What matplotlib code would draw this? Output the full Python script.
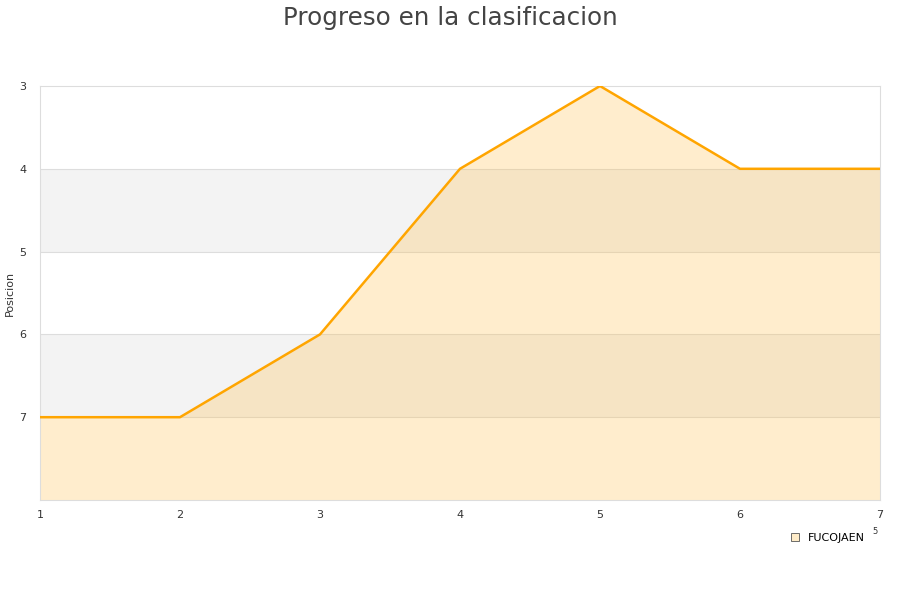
import matplotlib
matplotlib.use("Agg")
import matplotlib.pyplot as plt
from matplotlib.patches import Patch

jornadas = [1, 2, 3, 4, 5, 6, 7]
posiciones = [7, 7, 6, 4, 3, 4, 4]
equipo = "FUCOJAEN"
y_ticks = [3, 4, 5, 6, 7]

fig = plt.figure(figsize=(9, 6), dpi=100)
ax = fig.add_axes([40 / 900, 1 - 500 / 600, 840 / 900, 414 / 600])

# bandas alternas de fondo
for lo, hi in [(4, 5), (6, 7)]:
    ax.axhspan(lo, hi, color="#f3f3f3", zorder=0, lw=0)
for y in [4, 5, 6, 7]:
    ax.axhline(y, color="#dddddd", lw=0.8, zorder=1)

ax.fill_between(jornadas, posiciones, 8, color="#ffc04d", alpha=0.28, lw=0, zorder=2)
ax.plot(jornadas, posiciones, color="#ffa500", lw=1.8, zorder=3)

ax.set_xlim(1, 7)
ax.set_ylim(8, 3)
ax.set_yticks(y_ticks)
ax.set_xticks(jornadas)
ax.tick_params(axis="x", length=0, labelsize=8, colors="#333333", pad=7)
ax.tick_params(axis="y", length=0, labelsize=8, colors="#333333", pad=10)
for s in ax.spines.values():
    s.set_color("#dddddd")
ax.set_ylabel("Posicion", fontsize=8, color="#333333")
ax.yaxis.set_label_coords(-25 / 840, 0.5)

fig.suptitle("Progreso en la clasificacion", fontsize=17.7, color="#444444", y=0.99)
fig.text(875 / 900, 1 - 532 / 600, "5", fontsize=6, color="#333333", ha="center", va="center")

leg = fig.legend(handles=[Patch(facecolor="#ffecc8", edgecolor="#555555", lw=0.6, label=equipo)],
                 loc="center", bbox_to_anchor=(828 / 900, 1 - 538 / 600), frameon=False,
                 fontsize=8, handlelength=0.7, handleheight=0.7, handletextpad=0.8)

fig.savefig("out.png", dpi=100)
